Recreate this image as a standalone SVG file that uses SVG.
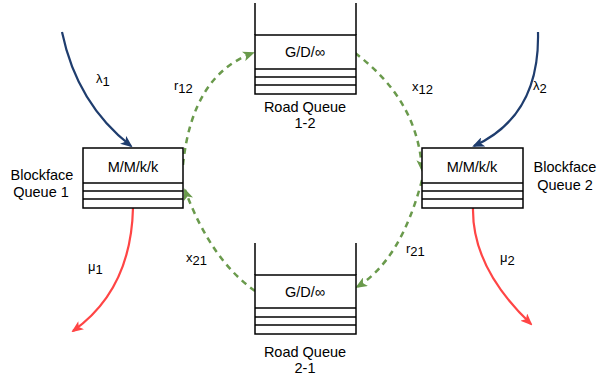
<svg xmlns="http://www.w3.org/2000/svg" width="597" height="383" viewBox="0 0 597 383">
<style>
.box{fill:#fff;stroke:#000;stroke-width:1.5}
.ln{fill:none;stroke:#000;stroke-width:1.5}
.t{font-family:"Liberation Sans",Arial,sans-serif;font-size:14.5px;fill:#000;text-anchor:middle}
.lb{font-family:"Liberation Sans",Arial,sans-serif;font-size:13px;fill:#000}
.blue{fill:none;stroke:#1f3d6e;stroke-width:2.2}
.red{fill:none;stroke:#ff4545;stroke-width:2.2}
.green{fill:none;stroke:#6a9a4c;stroke-width:2.5;stroke-dasharray:6 5}
</style>
<defs>
<marker id="mb" viewBox="0 0 12 10" refX="10" refY="5" markerWidth="12" markerHeight="10" markerUnits="userSpaceOnUse" orient="auto"><path d="M0,0 L12,5 L0,10 L3,5 Z" fill="#1f3d6e"/></marker>
<marker id="mr" viewBox="0 0 12 10" refX="10" refY="5" markerWidth="12" markerHeight="10" markerUnits="userSpaceOnUse" orient="auto"><path d="M0,0 L12,5 L0,10 L3,5 Z" fill="#ff4545"/></marker>
<marker id="mg" viewBox="0 0 12 10" refX="10" refY="5" markerWidth="12" markerHeight="10" markerUnits="userSpaceOnUse" orient="auto"><path d="M0,0 L12,5 L0,10 L3,5 Z" fill="#6a9a4c"/></marker>
</defs>

<g id="connectors">
<path class="blue" d="M62,32 Q77,104 131,146" marker-end="url(#mb)"/>
<path class="blue" d="M538,32 Q540,116 474,146" marker-end="url(#mb)"/>
<path class="red" d="M133,208 Q131,290 73,331" marker-end="url(#mr)"/>
<path class="red" d="M473,208 Q472,268 531,324" marker-end="url(#mr)"/>
<path class="green" d="M183,165 Q192,75 253,53" marker-end="url(#mg)"/>
<path class="green" d="M355,53 Q418,100 422,170" marker-end="url(#mg)"/>
<path class="green" d="M422,180 Q401,260 357,287" marker-end="url(#mg)"/>
<path class="green" d="M255,291 Q211,260 185,190" marker-end="url(#mg)"/>
</g>

<g id="bq1">
<rect class="box" x="83" y="148" width="100" height="60"/>
<line class="ln" x1="83" y1="183" x2="183" y2="183"/>
<line class="ln" x1="83" y1="191" x2="183" y2="191"/>
<line class="ln" x1="83" y1="199" x2="183" y2="199"/>
<text class="t" x="133" y="172">M/M/k/k</text>
<text class="t" x="42" y="180">Blockface</text>
<text class="t" x="41" y="197">Queue 1</text>
</g>

<g id="bq2">
<rect class="box" x="422" y="148" width="101" height="60"/>
<line class="ln" x1="422" y1="183" x2="523" y2="183"/>
<line class="ln" x1="422" y1="191" x2="523" y2="191"/>
<line class="ln" x1="422" y1="199" x2="523" y2="199"/>
<text class="t" x="472" y="172">M/M/k/k</text>
<text class="t" x="565" y="172">Blockface</text>
<text class="t" x="565" y="190">Queue 2</text>
</g>

<g id="rq12">
<rect class="box" x="255" y="35" width="101" height="59"/>
<line class="ln" x1="255" y1="3" x2="255" y2="35"/>
<line class="ln" x1="356" y1="3" x2="356" y2="35"/>
<line class="ln" x1="255" y1="69" x2="356" y2="69"/>
<line class="ln" x1="255" y1="77" x2="356" y2="77"/>
<line class="ln" x1="255" y1="85" x2="356" y2="85"/>
<text class="t" x="305" y="57">G/D/∞</text>
<text class="t" x="305" y="112">Road Queue</text>
<text class="t" x="305" y="128">1-2</text>
</g>

<g id="rq21">
<rect class="box" x="255" y="275" width="101" height="59"/>
<line class="ln" x1="255" y1="243" x2="255" y2="275"/>
<line class="ln" x1="356" y1="243" x2="356" y2="275"/>
<line class="ln" x1="255" y1="308" x2="356" y2="308"/>
<line class="ln" x1="255" y1="317" x2="356" y2="317"/>
<line class="ln" x1="255" y1="325" x2="356" y2="325"/>
<text class="t" x="305" y="297">G/D/∞</text>
<text class="t" x="305" y="357">Road Queue</text>
<text class="t" x="305" y="373">2-1</text>
</g>

<g id="labels">
<text class="lb" x="96" y="83">λ<tspan dy="3">1</tspan></text>
<text class="lb" x="533" y="90">λ<tspan dy="3">2</tspan></text>
<text class="lb" x="174" y="90">r<tspan dy="3">12</tspan></text>
<text class="lb" x="412" y="91">x<tspan dy="3">12</tspan></text>
<text class="lb" x="88" y="271">μ<tspan dy="3">1</tspan></text>
<text class="lb" x="500" y="262">μ<tspan dy="3">2</tspan></text>
<text class="lb" x="406" y="253">r<tspan dy="3">21</tspan></text>
<text class="lb" x="186" y="262">x<tspan dy="3">21</tspan></text>
</g>
</svg>
